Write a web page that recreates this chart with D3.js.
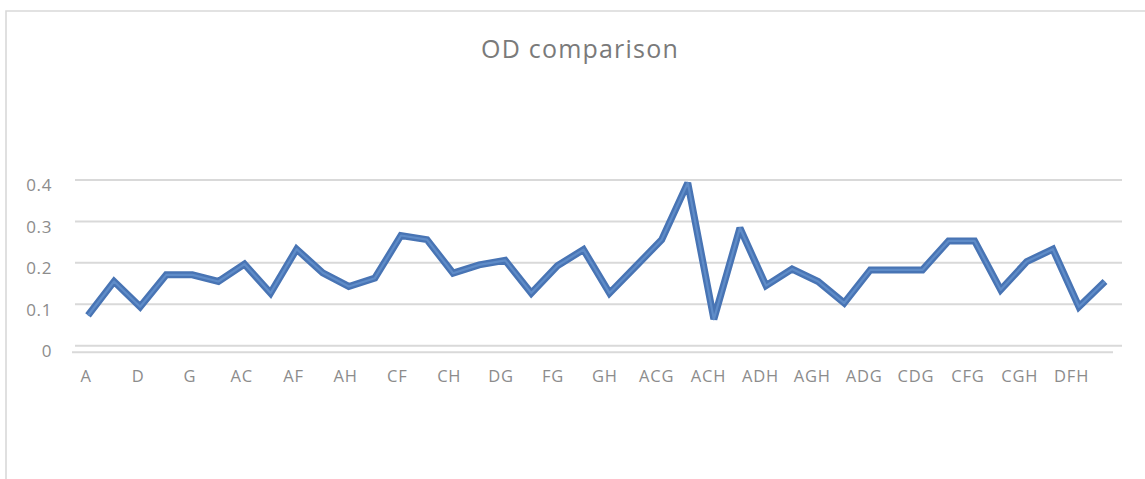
<!DOCTYPE html>
<html>
<head>
<meta charset="utf-8">
<script src="https://cdn.jsdelivr.net/npm/d3@7"></script>
<style>
  html, body { margin: 0; padding: 0; background: #fff; }
  svg { display: block; }
</style>
</head>
<body>
<svg id="chart" width="1145" height="479"></svg>
<script>
// Strain combinations along the category axis
const categories = [
  "A", "C", "D", "F", "G", "H",
  "AC", "AD", "AF", "AG", "AH", "CD", "CF", "CG", "CH",
  "DF", "DG", "DH", "FG", "FH", "GH",
  "ACF", "ACG", "ACD", "ACH", "ADF", "ADH", "AFG", "AGH", "AFH",
  "ADG", "CDF", "CDG", "CDH", "CFG", "CFH", "CGH", "DFG", "DFH", "DGH"
];

// Optical density per combination
const odValues = [
  0.073, 0.155, 0.094, 0.171, 0.171, 0.155,
  0.197, 0.127, 0.233, 0.176, 0.143, 0.163, 0.266, 0.256, 0.175,
  0.195, 0.206, 0.127, 0.193, 0.232, 0.127,
  0.191, 0.256, 0.393, 0.064, 0.284, 0.145, 0.185, 0.155, 0.103,
  0.183, 0.183, 0.183, 0.253, 0.253, 0.135, 0.203, 0.233, 0.094, 0.155
];

const yTicks = [0, 0.1, 0.2, 0.3, 0.4];
const chartTitle = "OD comparison";

const svg = d3.select("#chart");
const W = 1145, H = 479;

// Chart area frame
svg.append("path")
  .attr("d", `M6,${H} L6,11 L${W},11`)
  .attr("fill", "none")
  .attr("stroke", "#d9d9d9")
  .attr("stroke-width", 1.6);

// Scales
const x = d3.scalePoint().domain(categories).range([88, 1105]);
const xLabels = d3.scalePoint().domain(categories).range([85.7, 1097]);
const y = d3.scaleLinear().domain([0, 0.4]).range([345.7, 180]);

// Title
svg.append("text")
  .attr("x", 580)
  .attr("y", 58)
  .attr("text-anchor", "middle")
  .attr("font-family", "'Open Sans', sans-serif")
  .attr("font-size", 25)
  .attr("letter-spacing", 1.2)
  .attr("fill", "#7a7a7a")
  .text(chartTitle);

// Horizontal gridlines
svg.append("g")
  .selectAll("line")
  .data(yTicks)
  .join("line")
  .attr("x1", 75)
  .attr("x2", 1122)
  .attr("y1", d => y(d))
  .attr("y2", d => y(d))
  .attr("stroke", "#d9d9d9")
  .attr("stroke-width", 2);

// Category axis baseline
svg.append("line")
  .attr("x1", 72).attr("x2", 1113)
  .attr("y1", y(0) + 6.5).attr("y2", y(0) + 6.5)
  .attr("stroke", "#d9d9d9")
  .attr("stroke-width", 2);

// Value axis labels
const yAxis = d3.axisLeft(y)
  .tickValues(yTicks)
  .tickFormat(d => d === 0 ? "0" : d3.format(".1f")(d))
  .tickSize(0)
  .tickPadding(0);

const gy = svg.append("g")
  .attr("transform", "translate(52,5.5)")
  .call(yAxis);
gy.select(".domain").remove();
gy.selectAll("text")
  .attr("font-family", "'Open Sans', sans-serif")
  .attr("font-size", 17)
  .attr("letter-spacing", 0.6)
  .attr("fill", "#8c8c8c");

// Category axis labels (every second category)
const xAxis = d3.axisBottom(xLabels)
  .tickValues(categories.filter((d, i) => i % 2 === 0))
  .tickSize(0)
  .tickPadding(0);

const gx = svg.append("g")
  .attr("transform", "translate(0,370.5)")
  .call(xAxis);
gx.select(".domain").remove();
gx.selectAll("text")
  .attr("font-family", "'Open Sans', sans-serif")
  .attr("font-size", 16.5)
  .attr("letter-spacing", 0.8)
  .attr("fill", "#8c8c8c");

// Series line
const line = d3.line()
  .x((d, i) => x(categories[i]))
  .y(d => y(d));

svg.append("path")
  .datum(odValues)
  .attr("d", line)
  .attr("fill", "none")
  .attr("stroke", "#4874b4")
  .attr("stroke-width", 7)
  .attr("stroke-linejoin", "miter")
  .attr("stroke-miterlimit", 2);

svg.append("path")
  .datum(odValues)
  .attr("d", line)
  .attr("fill", "none")
  .attr("stroke", "#5f8cc8")
  .attr("stroke-width", 2.2)
  .attr("stroke-linejoin", "round");
</script>
</body>
</html>
